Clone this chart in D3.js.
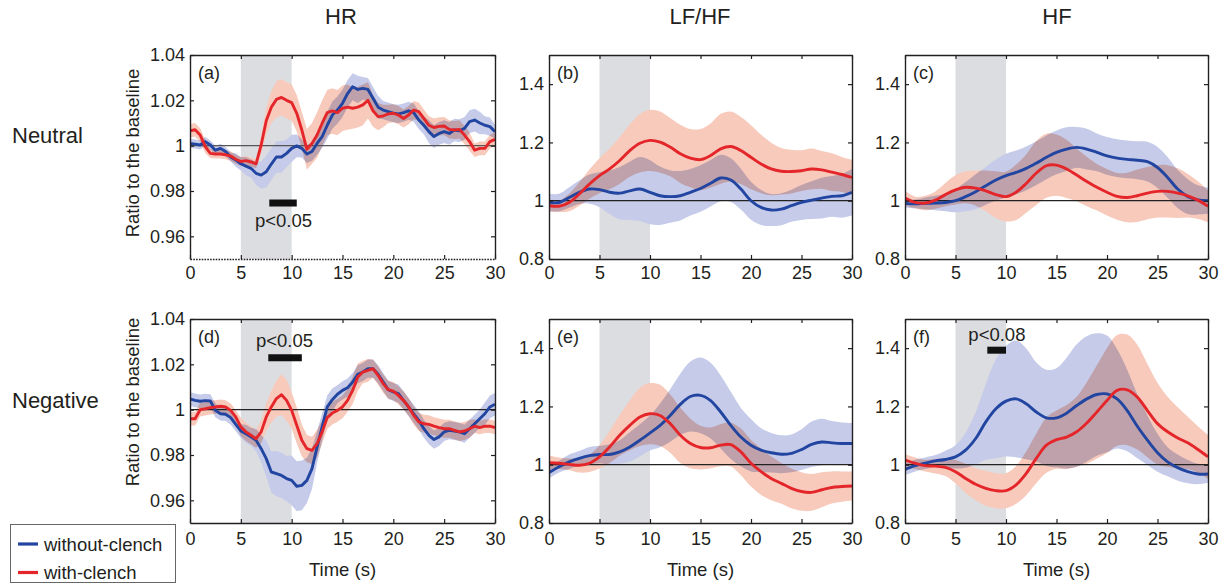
<!DOCTYPE html>
<html><head><meta charset="utf-8">
<script src="https://cdn.jsdelivr.net/npm/d3@7"></script>
<style>
body{margin:0;background:#fff;}
text{font-family:"Liberation Sans",Arial,sans-serif;fill:#231f20;}
</style></head>
<body>
<script>
// ---------------- DATA ----------------
const colTitles = ["HR", "LF/HF", "HF"];
const rowTitles = ["Neutral", "Negative"];
const panelLabels = ["(a)", "(b)", "(c)", "(d)", "(e)", "(f)"];
const seriesNames = ["without-clench", "with-clench"];
const xTicks = [0, 5, 10, 15, 20, 25, 30];
const hrTicks = [0.96, 0.98, 1, 1.02, 1.04];
const hrvTicks = [0.8, 1, 1.2, 1.4];
const clenchWindow = [5, 10];

const timeHR = [0,0.5,1,1.5,2,2.5,3,3.5,4,4.5,5,5.5,6,6.5,7,7.5,8,8.5,9,9.5,10,10.5,11,11.5,12,12.5,13,13.5,14,14.5,15,15.5,16,16.5,17,17.5,18,18.5,19,19.5,20,20.5,21,21.5,22,22.5,23,23.5,24,24.5,25,25.5,26,26.5,27,27.5,28,28.5,29,29.5,30];
const timeHRV = [0,1,2,3,4,5,6,7,8,9,10,11,12,13,14,15,16,17,18,19,20,21,22,23,24,25,26,27,28,29,30];

// (a) HR, neutral
const hrNeuWithout = [1.001,1.0007,1.0003,1.0018,1.0003,0.998,0.9988,0.9974,0.995,0.9937,0.992,0.991,0.990,0.9878,0.987,0.9885,0.9919,0.995,0.995,0.9966,0.9988,0.9999,0.9988,0.9963,0.9974,1.001,1.004,1.009,1.0135,1.0157,1.0187,1.023,1.026,1.0248,1.0253,1.0248,1.0209,1.017,1.0157,1.015,1.0143,1.014,1.0146,1.0154,1.0146,1.0113,1.009,1.0062,1.004,1.0054,1.0062,1.0054,1.0069,1.0066,1.0076,1.0106,1.0113,1.010,1.009,1.0084,1.0062];
const hrNeuWithoutErr = [0.002,0.002,0.002,0.002,0.002,0.002,0.002,0.002,0.002,0.003,0.003,0.004,0.004,0.005,0.006,0.007,0.007,0.007,0.007,0.006,0.006,0.005,0.004,0.004,0.004,0.005,0.005,0.006,0.006,0.006,0.006,0.006,0.006,0.006,0.005,0.005,0.005,0.005,0.004,0.004,0.004,0.004,0.004,0.004,0.004,0.004,0.004,0.005,0.005,0.005,0.005,0.005,0.005,0.005,0.005,0.005,0.005,0.005,0.004,0.004,0.003];
const hrNeuWith = [1.0066,1.007,1.0047,0.9996,0.9966,0.9963,0.9963,0.996,0.9954,0.994,0.993,0.9934,0.9928,0.992,1.0003,1.011,1.017,1.0204,1.0213,1.020,1.019,1.0143,1.0069,0.9984,1.001,1.0047,1.0099,1.0146,1.0153,1.0146,1.0165,1.017,1.0165,1.017,1.018,1.020,1.0154,1.0128,1.0131,1.014,1.0143,1.0135,1.012,1.0135,1.0157,1.015,1.012,1.009,1.008,1.0085,1.0087,1.0072,1.0069,1.0072,1.0047,1.0018,0.998,0.9988,0.9988,1.0018,1.0028];
const hrNeuWithErr = [0.003,0.003,0.003,0.003,0.002,0.002,0.002,0.002,0.002,0.002,0.002,0.002,0.002,0.002,0.004,0.006,0.007,0.008,0.008,0.008,0.008,0.008,0.008,0.009,0.009,0.01,0.01,0.01,0.01,0.01,0.01,0.01,0.009,0.009,0.009,0.008,0.007,0.006,0.005,0.004,0.004,0.004,0.004,0.004,0.004,0.004,0.004,0.004,0.004,0.004,0.004,0.004,0.004,0.004,0.004,0.004,0.003,0.003,0.003,0.003,0.003];

// (d) HR, negative
const hrNegWithout = [1.0047,1.0041,1.0037,1.004,1.0038,0.9997,0.9982,0.998,0.9965,0.9935,0.9906,0.9894,0.988,0.9865,0.9828,0.9784,0.9725,0.9718,0.971,0.9696,0.9688,0.9662,0.9666,0.9688,0.974,0.9835,0.9924,1.0012,1.0044,1.0068,1.0085,1.0097,1.0122,1.0156,1.0166,1.0181,1.0181,1.0156,1.0122,1.0088,1.0078,1.0071,1.0041,1.0012,0.9982,0.9953,0.9916,0.9887,0.9868,0.988,0.9902,0.9909,0.9906,0.9902,0.9894,0.9916,0.9938,0.996,0.9982,1.0012,1.0024];
const hrNegWithoutErr = [0.003,0.003,0.003,0.003,0.003,0.003,0.003,0.003,0.003,0.003,0.003,0.004,0.004,0.005,0.006,0.008,0.009,0.01,0.01,0.01,0.011,0.011,0.011,0.01,0.009,0.007,0.006,0.005,0.005,0.004,0.004,0.004,0.004,0.004,0.004,0.004,0.004,0.004,0.004,0.004,0.004,0.004,0.004,0.004,0.004,0.004,0.004,0.004,0.004,0.004,0.004,0.004,0.004,0.004,0.004,0.004,0.004,0.004,0.005,0.005,0.005];
const hrNegWith = [0.996,0.996,1.0,1.0004,1.0009,1.0012,1.0015,1.0012,0.9997,0.9968,0.9924,0.9902,0.9887,0.9872,0.9902,0.9968,1.0012,1.0049,1.0066,1.0041,0.9997,0.9931,0.9865,0.9828,0.982,0.985,0.9902,0.9965,0.9985,0.9997,1.0012,1.0041,1.0085,1.0144,1.0166,1.0173,1.0181,1.0151,1.0115,1.0088,1.0082,1.0063,1.0041,1.0012,0.9975,0.9946,0.9938,0.9935,0.9927,0.9921,0.9916,0.9916,0.9909,0.9902,0.9906,0.9916,0.9927,0.9921,0.9927,0.9927,0.9921];
const hrNegWithErr = [0.003,0.003,0.003,0.003,0.003,0.003,0.003,0.003,0.003,0.003,0.004,0.004,0.004,0.004,0.005,0.006,0.007,0.008,0.009,0.009,0.008,0.008,0.007,0.006,0.006,0.006,0.005,0.005,0.005,0.005,0.005,0.005,0.006,0.006,0.005,0.005,0.004,0.004,0.004,0.004,0.004,0.004,0.004,0.004,0.004,0.004,0.004,0.004,0.004,0.004,0.004,0.004,0.004,0.004,0.004,0.004,0.003,0.003,0.003,0.003,0.003];

// (b) LF/HF, neutral
const lfhfNeuWithout = [0.994,0.994,1.011,1.029,1.040,1.038,1.029,1.026,1.034,1.040,1.029,1.017,1.014,1.017,1.029,1.042,1.060,1.078,1.071,1.040,1.0,0.977,0.968,0.971,0.983,0.994,1.002,1.009,1.015,1.017,1.029];
const lfhfNeuWithoutErr = [0.03,0.03,0.035,0.04,0.05,0.06,0.075,0.09,0.1,0.11,0.11,0.1,0.09,0.085,0.08,0.08,0.08,0.08,0.075,0.07,0.065,0.06,0.055,0.055,0.055,0.06,0.065,0.07,0.07,0.075,0.08];
const lfhfNeuWith = [0.983,0.981,0.994,1.023,1.057,1.086,1.109,1.138,1.172,1.197,1.207,1.201,1.184,1.161,1.146,1.141,1.155,1.178,1.186,1.172,1.149,1.126,1.109,1.101,1.100,1.103,1.109,1.106,1.098,1.09,1.080];
const lfhfNeuWithErr = [0.02,0.02,0.03,0.04,0.05,0.06,0.07,0.08,0.09,0.1,0.105,0.105,0.1,0.1,0.1,0.105,0.11,0.12,0.12,0.115,0.11,0.1,0.09,0.08,0.075,0.07,0.07,0.065,0.065,0.06,0.06];

// (c) HF, neutral
const hfNeuWithout = [0.991,0.989,0.991,0.992,0.994,1.0,1.014,1.031,1.051,1.071,1.086,1.097,1.111,1.129,1.149,1.166,1.177,1.183,1.177,1.166,1.154,1.146,1.142,1.139,1.134,1.114,1.080,1.040,1.014,1.003,1.0];
const hfNeuWithoutErr = [0.015,0.015,0.02,0.025,0.03,0.04,0.05,0.06,0.065,0.07,0.075,0.075,0.075,0.075,0.075,0.075,0.075,0.07,0.07,0.065,0.065,0.065,0.065,0.065,0.068,0.07,0.07,0.065,0.06,0.05,0.045];
const hfNeuWith = [1.009,0.994,0.992,1.002,1.021,1.037,1.046,1.043,1.034,1.021,1.014,1.029,1.059,1.095,1.120,1.122,1.109,1.088,1.066,1.046,1.029,1.015,1.011,1.017,1.026,1.032,1.032,1.026,1.017,1.002,0.981];
const hfNeuWithErr = [0.025,0.02,0.025,0.03,0.04,0.05,0.055,0.06,0.07,0.08,0.085,0.095,0.1,0.11,0.11,0.105,0.1,0.09,0.085,0.08,0.08,0.08,0.085,0.09,0.09,0.09,0.09,0.085,0.075,0.065,0.055];

// (e) LF/HF, negative
const lfhfNegWithout = [0.973,0.993,1.010,1.022,1.031,1.035,1.035,1.044,1.061,1.084,1.109,1.135,1.169,1.207,1.234,1.238,1.220,1.181,1.135,1.095,1.067,1.050,1.041,1.036,1.039,1.052,1.070,1.078,1.075,1.073,1.073];
const lfhfNegWithoutErr = [0.02,0.02,0.025,0.025,0.03,0.03,0.035,0.04,0.05,0.055,0.06,0.075,0.09,0.105,0.12,0.13,0.13,0.125,0.115,0.1,0.09,0.075,0.068,0.065,0.065,0.07,0.078,0.08,0.075,0.072,0.07];
const lfhfNegWith = [1.007,1.005,1.001,0.998,1.005,1.027,1.061,1.101,1.135,1.164,1.175,1.169,1.141,1.101,1.073,1.059,1.058,1.067,1.069,1.044,1.005,0.976,0.953,0.936,0.919,0.908,0.905,0.914,0.922,0.925,0.927];
const lfhfNegWithErr = [0.025,0.02,0.02,0.025,0.03,0.04,0.055,0.07,0.085,0.1,0.105,0.105,0.1,0.095,0.085,0.075,0.07,0.072,0.075,0.08,0.08,0.08,0.075,0.07,0.068,0.066,0.063,0.06,0.055,0.052,0.05];

// (f) HF, negative
const hfNegWithout = [0.984,0.997,1.005,1.013,1.018,1.027,1.050,1.090,1.147,1.192,1.218,1.226,1.209,1.181,1.161,1.161,1.177,1.203,1.226,1.241,1.243,1.226,1.186,1.132,1.084,1.041,1.010,0.990,0.976,0.968,0.968];
const hfNegWithoutErr = [0.02,0.02,0.02,0.02,0.03,0.04,0.06,0.09,0.13,0.17,0.19,0.2,0.19,0.17,0.165,0.17,0.19,0.21,0.215,0.21,0.2,0.17,0.14,0.11,0.085,0.065,0.05,0.045,0.04,0.035,0.03];
const hfNegWith = [1.016,1.005,0.997,0.995,0.991,0.976,0.953,0.933,0.919,0.911,0.911,0.931,0.970,1.022,1.067,1.086,1.095,1.113,1.143,1.181,1.220,1.255,1.257,1.232,1.186,1.141,1.113,1.092,1.075,1.052,1.027];
const hfNegWithErr = [0.02,0.02,0.02,0.025,0.03,0.04,0.05,0.055,0.06,0.06,0.06,0.065,0.075,0.085,0.095,0.1,0.11,0.12,0.14,0.16,0.18,0.19,0.19,0.18,0.16,0.14,0.12,0.105,0.09,0.08,0.075];

// significance markers
const sigPanel = [0, 3, 5];
const sigStart = [7.8, 7.7, 8.15];
const sigEnd = [10.5, 11.0, 10.0];
const sigLevel = [0.9747, 1.0229, 1.393];
const sigText = ["p<0.05", "p<0.05", "p<0.08"];
const sigTextX = [9.2, 9.3, 9.1];
const sigTextLevel = [0.9642, 1.0278, 1.4257];

// ---------------- DRAWING ----------------
const W = 1227, H = 585;
const blueLine = "#2145a0", redLine = "#e4262b";
const blueBand = "#c5cbe9", redBand = "#f7cabb";
const ink = "#231f20";

const colX = [190, 549, 905];
const colW = [305, 303, 303];
const rowY = [55, 319];
const panelH = 204;

const panels = [
  {t: timeHR, b: hrNeuWithout, be: hrNeuWithoutErr, r: hrNeuWith, re: hrNeuWithErr, dom: [0.95, 1.04], ticks: hrTicks, curve: d3.curveLinear},
  {t: timeHRV, b: lfhfNeuWithout, be: lfhfNeuWithoutErr, r: lfhfNeuWith, re: lfhfNeuWithErr, dom: [0.8, 1.5], ticks: hrvTicks, curve: d3.curveCatmullRom},
  {t: timeHRV, b: hfNeuWithout, be: hfNeuWithoutErr, r: hfNeuWith, re: hfNeuWithErr, dom: [0.8, 1.5], ticks: hrvTicks, curve: d3.curveCatmullRom},
  {t: timeHR, b: hrNegWithout, be: hrNegWithoutErr, r: hrNegWith, re: hrNegWithErr, dom: [0.95, 1.04], ticks: hrTicks, curve: d3.curveLinear},
  {t: timeHRV, b: lfhfNegWithout, be: lfhfNegWithoutErr, r: lfhfNegWith, re: lfhfNegWithErr, dom: [0.8, 1.5], ticks: hrvTicks, curve: d3.curveCatmullRom},
  {t: timeHRV, b: hfNegWithout, be: hfNegWithoutErr, r: hfNegWith, re: hfNegWithErr, dom: [0.8, 1.5], ticks: hrvTicks, curve: d3.curveCatmullRom}
];

const svg = d3.select("body").append("svg").attr("width", W).attr("height", H);
const defs = svg.append("defs");

panels.forEach((p, i) => {
  const row = Math.floor(i / 3), col = i % 3;
  const x0 = colX[col], w = colW[col], y0 = rowY[row];
  const x = d3.scaleLinear().domain([0, 30]).range([x0, x0 + w]);
  const y = d3.scaleLinear().domain(p.dom).range([y0 + panelH, y0]);
  const g = svg.append("g");
  const cid = "clip" + i;
  defs.append("clipPath").attr("id", cid).append("rect")
    .attr("x", x0).attr("y", y0).attr("width", w).attr("height", panelH);
  const inner = g.append("g").attr("clip-path", `url(#${cid})`);

  inner.append("rect").attr("x", x(clenchWindow[0])).attr("y", y0)
    .attr("width", x(clenchWindow[1]) - x(clenchWindow[0])).attr("height", panelH)
    .attr("fill", "#dcdde0");

  const idx = d3.range(p.t.length);
  const area = (m, e) => d3.area().curve(p.curve)
    .x(k => x(p.t[k])).y0(k => y(m[k] - e[k])).y1(k => y(m[k] + e[k]));
  const line = m => d3.line().curve(p.curve).x(k => x(p.t[k])).y(k => y(m[k]));

  const bands = inner.append("g").style("isolation", "isolate");
  bands.append("path").attr("d", area(p.b, p.be)(idx)).attr("fill", blueBand);
  bands.append("path").attr("d", area(p.r, p.re)(idx)).attr("fill", redBand)
    .style("mix-blend-mode", "multiply");

  inner.append("line").attr("x1", x0).attr("x2", x0 + w).attr("y1", y(1)).attr("y2", y(1))
    .attr("stroke", i === 0 ? "#555" : "#222").attr("stroke-width", 1.2);

  inner.append("path").attr("d", line(p.b)(idx)).attr("fill", "none")
    .attr("stroke", blueLine).attr("stroke-width", 2.9).attr("stroke-linejoin", "round");
  inner.append("path").attr("d", line(p.r)(idx)).attr("fill", "none")
    .attr("stroke", redLine).attr("stroke-width", 2.9).attr("stroke-linejoin", "round");

  const fmt = d3.format("~g");
  const axL = g.append("g").attr("transform", `translate(${x0},0)`)
    .call(d3.axisLeft(y).tickValues(p.ticks).tickSizeInner(-4).tickSizeOuter(0).tickPadding(5).tickFormat(fmt));
  const axB = g.append("g").attr("transform", `translate(0,${y0 + panelH})`)
    .call(d3.axisBottom(x).tickValues(xTicks).tickSizeInner(-4).tickSizeOuter(0).tickPadding(row === 0 ? 7 : 9));
  const axR = g.append("g").attr("transform", `translate(${x0 + w},0)`)
    .call(d3.axisRight(y).tickValues(p.ticks).tickSizeInner(-4).tickSizeOuter(0).tickFormat(""));
  const axT = g.append("g").attr("transform", `translate(0,${y0})`)
    .call(d3.axisTop(x).tickValues(xTicks).tickSizeInner(-4).tickSizeOuter(0).tickFormat(""));
  [axL, axB, axR, axT].forEach(a => {
    a.selectAll("path.domain").attr("stroke", ink).attr("stroke-width", 1.4);
    a.selectAll(".tick line").attr("stroke", ink).attr("stroke-width", 1.2);
    a.selectAll(".tick text").attr("font-size", 18).attr("fill", ink)
      .attr("font-family", '"Liberation Sans", Arial, sans-serif');
  });
  if (i === 0) axB.select("path.domain").attr("stroke-dasharray", "1.6,1.2");

  g.append("text").attr("x", x0 + 8).attr("y", y0 + 24).attr("font-size", 18).text(panelLabels[i]);

  if (row === 1) {
    g.append("text").attr("x", x0 + w / 2).attr("y", 576).attr("text-anchor", "middle")
      .attr("font-size", 18.5).text("Time (s)");
  }
  if (col === 0) {
    const cy = row === 0 ? 153 : 402;
    g.append("text").attr("transform", `translate(139,${cy}) rotate(-90)`)
      .attr("text-anchor", "middle").attr("font-size", 18.5).text("Ratio to the baseline");
  }

  sigPanel.forEach((sp, k) => {
    if (sp !== i) return;
    g.append("rect").attr("x", x(sigStart[k])).attr("width", x(sigEnd[k]) - x(sigStart[k]))
      .attr("y", y(sigLevel[k]) - 3.5).attr("height", 7).attr("fill", "#111");
    g.append("text").attr("x", x(sigTextX[k])).attr("y", y(sigTextLevel[k]))
      .attr("text-anchor", "middle").attr("font-size", 18.5).text(sigText[k]);
  });
});

const colCenters = [341, 700, 1057];
colTitles.forEach((t, c) => {
  svg.append("text").attr("x", colCenters[c]).attr("y", 24).attr("text-anchor", "middle")
    .attr("font-size", 22).text(t);
});
const rowBase = [143, 408];
rowTitles.forEach((t, r) => {
  svg.append("text").attr("x", 12).attr("y", rowBase[r]).attr("font-size", 22).text(t);
});

const lg = svg.append("g");
lg.append("rect").attr("x", 10.5).attr("y", 524.5).attr("width", 165).attr("height", 58)
  .attr("fill", "#fff").attr("stroke", "#666").attr("stroke-width", 1);
const legColors = [blueLine, redLine];
seriesNames.forEach((n, k) => {
  const ly = 544 + k * 28.5;
  lg.append("line").attr("x1", 18).attr("x2", 38).attr("y1", ly).attr("y2", ly)
    .attr("stroke", legColors[k]).attr("stroke-width", 3.2);
  lg.append("text").attr("x", 44).attr("y", ly + 6.5).attr("font-size", 18.5).text(n);
});
</script>
</body></html>
